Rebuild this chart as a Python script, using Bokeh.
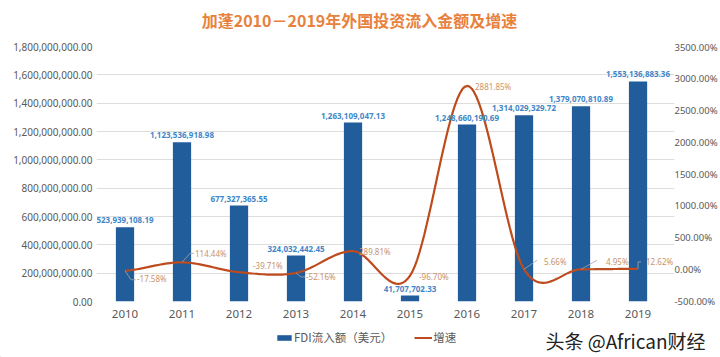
import numpy as np
from bokeh.plotting import figure
from bokeh.layouts import column
from bokeh.core.properties import value
from bokeh.models import (Range1d, LinearAxis, NumeralTickFormatter, CustomJSTickFormatter,
                          FixedTicker, ColumnDataSource, LabelSet, Label, Legend, LegendItem)
from bokeh.embed import file_html
from bokeh.resources import INLINE

# ---------------- data ----------------
years = [2010, 2011, 2012, 2013, 2014, 2015, 2016, 2017, 2018, 2019]
year_labels = ["2010", "2011", "2012", "2013", "2014", "2015", "2016", "2017", "2018", "2019"]
fdi = [523939108.19, 1123536918.98, 677327365.55, 324032442.45, 1263109047.13,
       41707702.33, 1248660190.69, 1314029329.72, 1379070810.89, 1553136883.36]
growth = [-17.58, 114.44, -39.71, -52.16, 289.81, -96.70, 2881.85, 5.66, 4.95, 12.62]
left_ticks = [0, 200e6, 400e6, 600e6, 800e6, 1000e6, 1200e6, 1400e6, 1600e6, 1800e6]
right_ticks = [-500, 0, 500, 1000, 1500, 2000, 2500, 3000, 3500]

title_text = "加蓬2010－2019年外国投资流入金额及增速"
series_names = ["FDI流入额（美元）", "增速"]
watermark = "头条 @African财经"

fdi_labels = [f"{v:,.2f}" for v in fdi]
growth_labels = [f"{v:.2f}%" for v in growth]

# ---------------- style ----------------
FONT = "Noto Sans"
CJK = "Noto Sans CJK SC"
BAR_C = "#215D9A"
BAR_LBL_C = "#3F87C9"
LINE_C = "#BE4B1D"
GR_LBL_C = "#C99267"
AX_C = "#595959"
GRID_C = "#DDDDDD"

W = 720
PXW = 57.2                     # pixels per year
FRAME_W = 580
FRAME_H = 255
PX_X = 1.0 / PXW
PX_YP = 4000.0 / FRAME_H       # percent per pixel


def strip(h):
    f = figure(width=W, height=h, x_range=Range1d(0, W), y_range=Range1d(0, h),
               output_backend="svg", toolbar_location=None, x_axis_type=None,
               y_axis_type=None, min_border=0, title=None)
    f.frame_align = False
    f.outline_line_color = None
    f.xgrid.visible = False
    f.ygrid.visible = False
    return f

# ---------------- title strip ----------------
t = strip(40)
t.add_layout(Label(x=359, y=21, text=title_text, text_align="center", text_baseline="middle",
                   text_font=CJK, text_font_size="16px", text_font_style="bold",
                   text_color="#E8813C"))

# ---------------- main chart ----------------
p = figure(width=W, height=285, x_range=Range1d(2009.5, 2009.5 + FRAME_W / PXW),
           y_range=Range1d(0, 1.8e9), title=None,
           output_backend="svg", toolbar_location=None,
           min_border_left=96, min_border_right=W - 96 - FRAME_W, min_border_top=6,
           min_border_bottom=24)
p.frame_align = False
p.extra_y_ranges = {"pct": Range1d(-500, 3500)}
p.outline_line_color = None
p.border_fill_color = "white"

p.xaxis.ticker = FixedTicker(ticks=years)
p.xaxis.major_label_overrides = {y: l for y, l in zip(years, year_labels)}
p.yaxis.ticker = FixedTicker(ticks=left_ticks)
p.yaxis.formatter = NumeralTickFormatter(format="0,0.00")

raxis = LinearAxis(y_range_name="pct", ticker=FixedTicker(ticks=right_ticks),
                   formatter=CustomJSTickFormatter(code="return tick.toFixed(2) + '%';"))
p.add_layout(raxis, "right")

for ax in [p.xaxis[0], p.yaxis[0], raxis]:
    ax.axis_line_color = None
    ax.major_tick_line_color = None
    ax.minor_tick_line_color = None
    ax.major_tick_out = 0
    ax.major_tick_in = 0
    ax.minor_tick_out = 0
    ax.minor_tick_in = 0
    ax.major_label_text_color = AX_C
    ax.major_label_text_font = FONT
p.xaxis.major_label_text_font_size = "11.5px"
p.xaxis.major_label_standoff = 8
p.yaxis.major_label_text_font_size = "10px"
p.yaxis.major_label_standoff = 4
raxis.major_label_text_font_size = "9.5px"
raxis.major_label_standoff = 0

p.xgrid.grid_line_color = None
p.ygrid.grid_line_color = GRID_C
p.ygrid.grid_line_width = 1

# bars
src = ColumnDataSource(dict(x=years, top=fdi, lbl=fdi_labels))
bars = p.vbar(x="x", top="top", width=0.32, source=src, fill_color=BAR_C, line_color=None)

# smooth line (Catmull-Rom rendering of the growth series)
def catmull(xs, ys, n=24):
    ox, oy = [], []
    N = len(xs)
    for i in range(N - 1):
        p0 = ys[i - 1] if i > 0 else ys[i]
        p3 = ys[i + 2] if i + 2 < N else ys[i + 1]
        m1 = (ys[i + 1] - p0) / 2.0
        m2 = (p3 - ys[i]) / 2.0
        for tt in np.linspace(0, 1, n, endpoint=False):
            h00 = 2 * tt**3 - 3 * tt**2 + 1
            h10 = tt**3 - 2 * tt**2 + tt
            h01 = -2 * tt**3 + 3 * tt**2
            h11 = tt**3 - tt**2
            ox.append(xs[i] + tt * (xs[i + 1] - xs[i]))
            oy.append(h00 * ys[i] + h10 * m1 + h01 * ys[i + 1] + h11 * m2)
    ox.append(xs[-1]); oy.append(ys[-1])
    return ox, oy

sx, sy = catmull(years, growth)
line = p.line(sx, sy, y_range_name="pct", line_color=LINE_C, line_width=2.2)

# leader lines (pixel offsets from each point; screen-down positive)
leaders = {
    2010: [(0, 0), (6, 9), (11, 9)],
    2011: [(0, 0), (8, -9), (12, -9)],
    2013: [(0, 0), (5, 4), (9, 4)],
    2017: [(0, 0), (13, -9)],
    2018: [(0, 0), (16, -9)],
    2019: [(0, 0), (0, -7), (3, -7)],
}
lx, ly = [], []
for yr, g in zip(years, growth):
    if yr in leaders:
        lx.append([yr + dx * PX_X for dx, dy in leaders[yr]])
        ly.append([g - dy * PX_YP for dx, dy in leaders[yr]])
p.multi_line(lx, ly, y_range_name="pct", line_color="#A5A5A5", line_width=0.8)

# growth labels offsets (pixels, screen-down positive dy)
g_off = [(12, 8), (13, -9), (14, -7), (10, 4), (6, 0), (9, 1), (8, 1), (20, -8), (25, -8), (8, -7)]
gsrc = ColumnDataSource(dict(x=years, y=growth, lbl=growth_labels,
                             dx=[o[0] for o in g_off], dy=[-o[1] for o in g_off]))
p.add_layout(LabelSet(x="x", y="y", text="lbl", source=gsrc, y_range_name="pct",
                      x_offset="dx", y_offset="dy", text_align="left", text_baseline="middle",
                      text_font=value(FONT), text_font_size="8px", text_color=GR_LBL_C))

# bar labels
p.add_layout(LabelSet(x="x", y="top", text="lbl", source=src, y_offset=4,
                      text_align="center", text_baseline="bottom", text_font=value(FONT),
                      text_font_size="8px", text_font_style="bold", text_color=BAR_LBL_C))

# ---------------- legend strip ----------------
q = strip(32)
lb = q.vbar(x=[-100], top=[1], width=1, fill_color=BAR_C, line_color=None)
ll = q.line(x=[-100, -90], y=[1, 1], line_color=LINE_C, line_width=2)
legend = Legend(items=[LegendItem(label=series_names[0], renderers=[lb]),
                       LegendItem(label=series_names[1], renderers=[ll])],
                orientation="horizontal", location=(275, 12),
                glyph_width=18, glyph_height=7, label_height=14, label_standoff=1,
                spacing=22, padding=0, margin=0, border_line_color=None,
                background_fill_alpha=0, label_text_font=CJK, label_text_font_size="11.5px",
                label_text_color=AX_C)
q.add_layout(legend, "center")
q.add_layout(Label(x=545, y=17, text=watermark, text_baseline="middle",
                   text_font=CJK, text_font_size="19px", text_color="#222222"))

layout = column(t, p, q, spacing=0)
open("out.html", "w").write(file_html(layout, INLINE))
